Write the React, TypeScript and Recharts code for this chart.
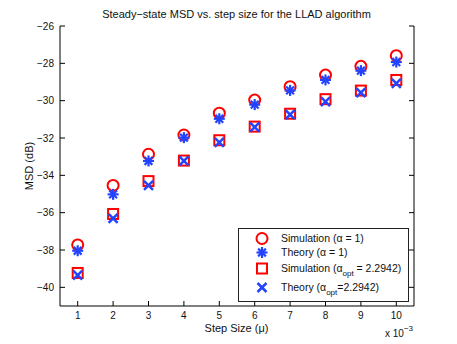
import React from 'react';
import { ScatterChart, Scatter, XAxis, YAxis } from 'recharts';

const steps = [1, 2, 3, 4, 5, 6, 7, 8, 9, 10];
const simAlpha1 = [-37.73, -34.54, -32.87, -31.84, -30.67, -29.97, -29.25, -28.63, -28.16, -27.59];
const theoryAlpha1 = [-38.04, -35.02, -33.23, -31.98, -30.97, -30.21, -29.45, -28.89, -28.39, -27.93];
const simOpt = [-39.23, -36.07, -34.31, -33.21, -32.12, -31.39, -30.7, -29.92, -29.46, -28.89];
const theoryOpt = [-39.34, -36.3, -34.54, -33.22, -32.24, -31.42, -30.75, -30.05, -29.57, -29.07];
const xTicks = [1, 2, 3, 4, 5, 6, 7, 8, 9, 10];
const yTicks = [-40, -38, -36, -34, -32, -30, -28, -26];

const RED = '#ff0000';
const BLUE = '#2244ff';
const FONT = '"Liberation Sans", Arial, Helvetica, sans-serif';

const toData = (ys: number[]) => steps.map((x, i) => ({ x, y: ys[i] }));

const CircleShape = (p: any) => (
  <circle cx={p.cx} cy={p.cy} r={5.5} fill="none" stroke={RED} strokeWidth={2} />
);
const StarShape = (p: any) => {
  const s = 5.5;
  const d = s * 0.707;
  return (
    <g stroke={BLUE} strokeWidth={2.2}>
      <line x1={p.cx - s} y1={p.cy} x2={p.cx + s} y2={p.cy} />
      <line x1={p.cx} y1={p.cy - s} x2={p.cx} y2={p.cy + s} />
      <line x1={p.cx - d} y1={p.cy - d} x2={p.cx + d} y2={p.cy + d} />
      <line x1={p.cx - d} y1={p.cy + d} x2={p.cx + d} y2={p.cy - d} />
    </g>
  );
};
const SquareShape = (p: any) => (
  <rect x={p.cx - 5} y={p.cy - 5} width={10} height={10} fill="none" stroke={RED} strokeWidth={2} />
);
const CrossShape = (p: any) => {
  const s = 4.5;
  return (
    <g stroke={BLUE} strokeWidth={2.5}>
      <line x1={p.cx - s} y1={p.cy - s} x2={p.cx + s} y2={p.cy + s} />
      <line x1={p.cx - s} y1={p.cy + s} x2={p.cx + s} y2={p.cy - s} />
    </g>
  );
};

const minus = (v: number) => String(v).replace('-', '\u2212');

const LegendBox = () => {
  const rows: { shape: (p: any) => React.ReactElement; label: React.ReactNode }[] = [
    { shape: CircleShape, label: <>Simulation (α = 1)</> },
    { shape: StarShape, label: <>Theory (α = 1)</> },
    {
      shape: SquareShape,
      label: (
        <>
          Simulation (α<tspan dy={4} fontSize={8}>opt</tspan>
          <tspan dy={-4}> = 2.2942)</tspan>
        </>
      ),
    },
    {
      shape: CrossShape,
      label: (
        <>
          Theory (α<tspan dy={4} fontSize={8}>opt</tspan>
          <tspan dy={-4}>=2.2942)</tspan>
        </>
      ),
    },
  ];
  const rowY = [10.5, 24.5, 40.5, 59.5];
  return (
    <svg width={171} height={74} style={{ display: 'block' }}>
      <rect x={0.5} y={0.5} width={170} height={73} fill="#fff" stroke="#222" strokeWidth={1} />
      {rows.map((r, i) => (
        <g key={i}>
          {r.shape({ cx: 24, cy: rowY[i] })}
          <text x={43} y={rowY[i] + 3.8} fontSize={10.5} fontFamily={FONT} fill="#111">
            {r.label}
          </text>
        </g>
      ))}
    </svg>
  );
};

export default function App() {
  return (
    <div style={{ position: 'absolute', left: 0, top: 0, width: 457, height: 344, background: '#fff', fontFamily: FONT }}>
      <ScatterChart width={457} height={344} margin={{ top: 26, right: 0, bottom: 0, left: 0 }}>
        <XAxis
          xAxisId="b"
          dataKey="x"
          type="number"
          domain={[0.5, 10.5]}
          ticks={xTicks}
          allowDataOverflow
          height={38}
          tickSize={-5}
          tickMargin={11}
          stroke="#000"
          tick={{ fontSize: 10, fill: '#111', fontFamily: FONT }}
          interval={0}
        />
        <XAxis
          xAxisId="t"
          orientation="top"
          dataKey="x"
          type="number"
          domain={[0.5, 10.5]}
          ticks={xTicks}
          allowDataOverflow
          height={0}
          tickSize={-5}
          stroke="#000"
          tick={() => <g />}
          interval={0}
        />
        <YAxis
          yAxisId="l"
          dataKey="y"
          type="number"
          domain={[-41, -26]}
          ticks={yTicks}
          allowDataOverflow
          width={60}
          tickSize={-5}
          tickMargin={11}
          stroke="#000"
          tickFormatter={minus}
          tick={{ fontSize: 10, fill: '#111', fontFamily: FONT }}
          interval={0}
        />
        <YAxis
          yAxisId="r"
          orientation="right"
          dataKey="y"
          type="number"
          domain={[-41, -26]}
          ticks={yTicks}
          allowDataOverflow
          width={43}
          tickSize={-5}
          stroke="#000"
          tick={() => <g />}
          interval={0}
        />
        <Scatter xAxisId="b" yAxisId="l" data={toData(simAlpha1)} shape={CircleShape} isAnimationActive={false} />
        <Scatter xAxisId="b" yAxisId="l" data={toData(theoryAlpha1)} shape={StarShape} isAnimationActive={false} />
        <Scatter xAxisId="b" yAxisId="l" data={toData(simOpt)} shape={SquareShape} isAnimationActive={false} />
        <Scatter xAxisId="b" yAxisId="l" data={toData(theoryOpt)} shape={CrossShape} isAnimationActive={false} />
      </ScatterChart>
      <div style={{ position: 'absolute', left: 238, top: 228 }}>
        <LegendBox />
      </div>
      <div style={{ position: 'absolute', left: 0, width: 473, top: 7, textAlign: 'center', fontSize: 11, color: '#111', lineHeight: '14px' }}>
        Steady−state MSD vs. step size for the LLAD algorithm
      </div>
      <div style={{ position: 'absolute', left: 0, width: 473, top: 321, textAlign: 'center', fontSize: 11, color: '#111', lineHeight: '14px' }}>
        Step Size (μ)
      </div>
      <div style={{ position: 'absolute', left: 385, top: 328, fontSize: 10, color: '#111', lineHeight: '12px', whiteSpace: 'nowrap' }}>
        x 10<span style={{ position: 'relative', top: -6, fontSize: 8 }}>−3</span>
      </div>
      <div
        style={{
          position: 'absolute',
          left: 29,
          top: 166,
          transform: 'translate(-50%, -50%) rotate(-90deg)',
          fontSize: 11,
          color: '#111',
          whiteSpace: 'nowrap',
          lineHeight: '14px',
        }}
      >
        MSD (dB)
      </div>
    </div>
  );
}
